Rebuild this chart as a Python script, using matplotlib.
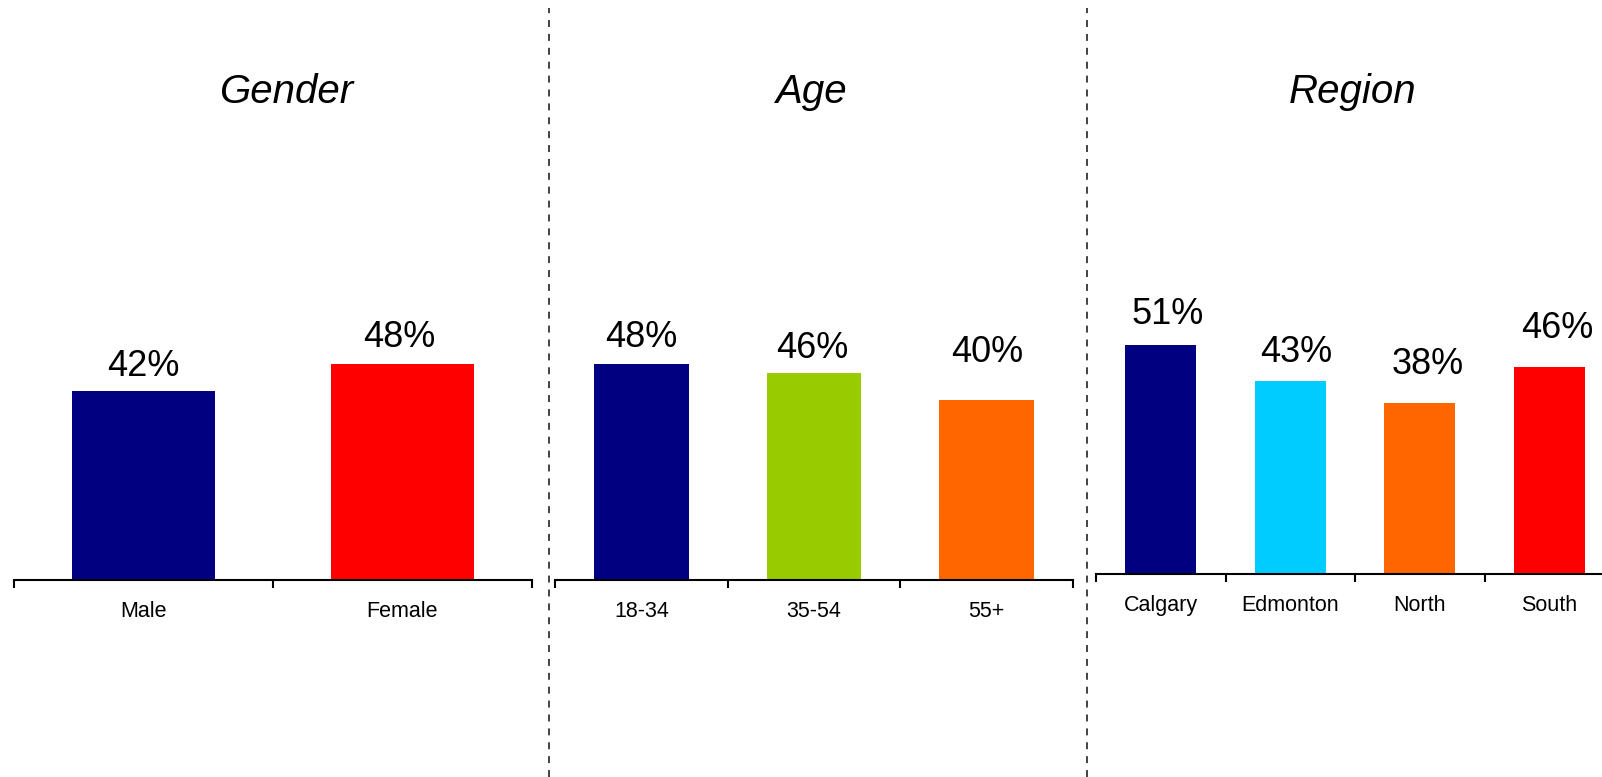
import matplotlib.pyplot as plt
from matplotlib.lines import Line2D

plt.rcParams['font.family'] = ['Liberation Sans', 'DejaVu Sans']
plt.rcParams['lines.scale_dashes'] = False

# Datos por grupo
gender_labels = ['Male', 'Female']
gender_values = [42, 48]
gender_colors = ['#000080', '#FF0000']

age_labels = ['18-34', '35-54', '55+']
age_values = [48, 46, 40]
age_colors = ['#000080', '#99CC00', '#FF6600']

region_labels = ['Calgary', 'Edmonton', 'North', 'South']
region_values = [51, 43, 38, 46]
region_colors = ['#000080', '#00CCFF', '#FF6600', '#FF0000']

# Desplazamiento de cada etiqueta de valor (pixeles: x, y sobre la barra)
gender_offsets = [(0, 15), (-3, 17)]
age_offsets = [(0, 17), (-2, 15), (1, 38)]
region_offsets = [(7, 20), (6, 19), (8, 29), (8, 29)]

W, H = 1602, 777
fig = plt.figure(figsize=(W / 100, H / 100), dpi=100)


def panel(rect, labels, values, colors, offsets):
    ax = fig.add_axes(rect)
    x = list(range(len(labels)))
    ax.bar(x, values, width=0.55, color=colors, edgecolor='none')
    ax.set_xlim(-0.5, len(labels) - 0.5)
    ax.set_ylim(0, 100)
    for s in ['top', 'left', 'right']:
        ax.spines[s].set_visible(False)
    ax.spines['bottom'].set_linewidth(1.5)
    ax.set_yticks([])
    ax.set_xticks(x)
    ax.set_xticklabels(labels, fontsize=15.5)
    ax.tick_params(axis='x', which='major', length=0, pad=15)
    ax.set_xticks([i - 0.5 for i in range(len(labels) + 1)], minor=True)
    ax.tick_params(axis='x', which='minor', length=6, width=1.5, direction='out')
    for xi, v, (dx, dy) in zip(x, values, offsets):
        ax.annotate(f'{v}%', (xi, v), xytext=(dx, dy), textcoords='offset pixels',
                    ha='center', va='baseline', fontsize=26)
    return ax


# Paneles: izquierda, abajo, ancho, alto en fraccion de figura
panel([14 / W, 197 / H, 518 / W, 450 / H], gender_labels, gender_values, gender_colors, gender_offsets)
panel([555 / W, 197 / H, 518 / W, 450 / H], age_labels, age_values, age_colors, age_offsets)
panel([1096 / W, 203 / H, 518 / W, 450 / H], region_labels, region_values, region_colors, region_offsets)

# Titulos
for tx, title in [(286, 'Gender'), (812, 'Age'), (1353, 'Region')]:
    fig.text(tx / W, 1 - 103 / H, title, ha='center', va='baseline',
             fontsize=29, style='italic')

# Separadores punteados
for lx in [549, 1087]:
    fig.add_artist(Line2D([lx / W, lx / W], [0, 1 - 8 / H], transform=fig.transFigure,
                          color='#222222', linewidth=1.2, linestyle=(0, (5, 5))))

fig.savefig('out.png', dpi=100)
